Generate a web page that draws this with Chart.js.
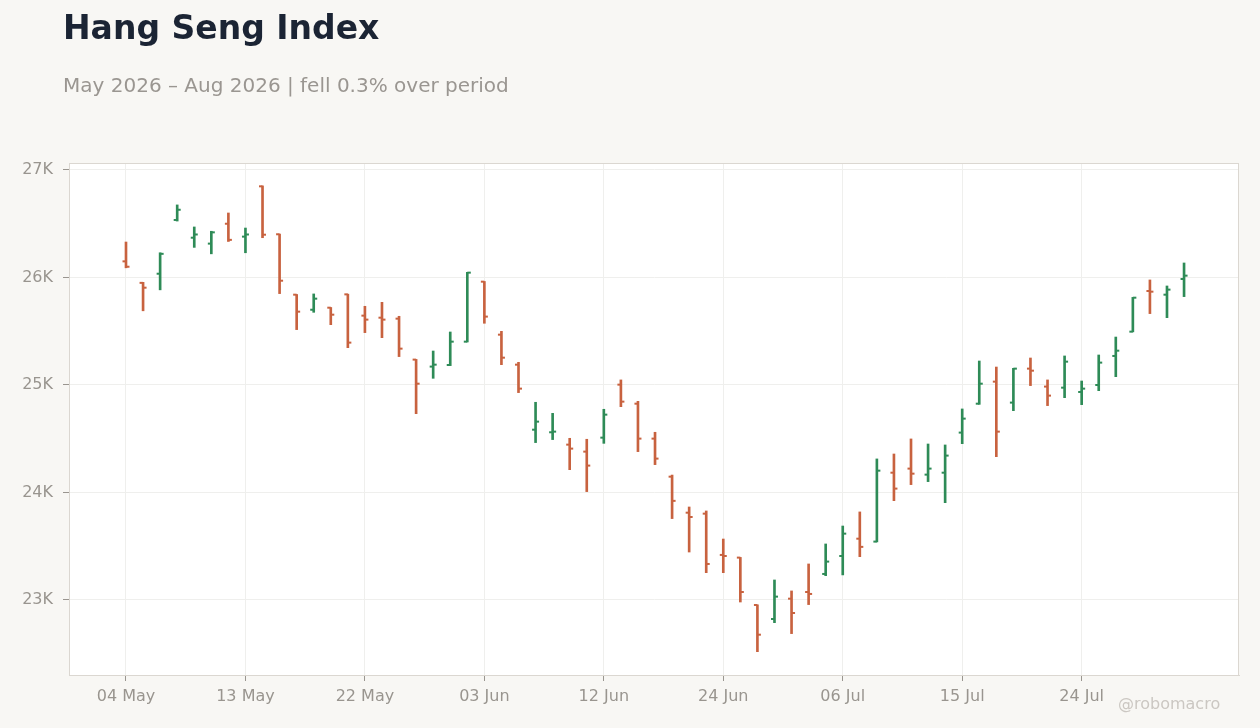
<!DOCTYPE html>
<html>
<head>
<meta charset="utf-8">
<script src="https://cdn.jsdelivr.net/npm/chart.js@4.4.1/dist/chart.umd.min.js"></script>
<style>
    html, body { margin: 0; padding: 0; background: #f8f7f4; }
    #wrap { position: relative; width: 1260px; height: 728px; overflow: hidden; }
    #title { position: absolute; left: 63px; top: 11px; font: bold 33px 'DejaVu Sans'; line-height: 1; color: #1b2434; white-space: nowrap; }
    #subtitle { position: absolute; left: 63px; top: 75px; font: 20px 'DejaVu Sans'; line-height: 1; color: #9a9691; white-space: nowrap; }
    #credit { position: absolute; left: 1118px; top: 696px; font: 16px 'DejaVu Sans'; line-height: 1; color: #cbc7c2; white-space: nowrap; }
    #box { position: absolute; left: 0; top: 0; width: 1260px; height: 728px; }
</style>
</head>
<body>
<div id="wrap">
    <div id="box"><canvas id="ohlcChart"></canvas></div>
    <div id="title">Hang Seng Index</div>
    <div id="subtitle">May 2026 – Aug 2026 | fell 0.3% over period</div>
    <div id="credit">@robomacro</div>
</div>
<script>
// trading days (holidays 25 May, 19 Jun, 01 Jul skipped)
var dates = [
    '04 May', '05 May', '06 May', '07 May', '08 May', '11 May', '12 May', '13 May', '14 May', '15 May',
    '18 May', '19 May', '20 May', '21 May', '22 May', '26 May', '27 May', '28 May', '29 May',
    '01 Jun', '02 Jun', '03 Jun', '04 Jun', '05 Jun', '08 Jun', '09 Jun', '10 Jun', '11 Jun', '12 Jun',
    '15 Jun', '16 Jun', '17 Jun', '18 Jun', '22 Jun', '23 Jun', '24 Jun', '25 Jun', '26 Jun',
    '29 Jun', '30 Jun', '02 Jul', '03 Jul', '06 Jul', '07 Jul', '08 Jul', '09 Jul', '10 Jul',
    '13 Jul', '14 Jul', '15 Jul', '16 Jul', '17 Jul', '20 Jul', '21 Jul', '22 Jul', '23 Jul', '24 Jul',
    '27 Jul', '28 Jul', '29 Jul', '30 Jul', '31 Jul', '03 Aug'
];

var opens = [
    26150, 25950, 26035, 26535, 26370, 26315, 26500, 26380, 26848, 26402,
    25840, 25700, 25719, 25843, 25645, 25626, 25617, 25236, 25171, 25186,
    25403, 25961, 25468, 25189, 24584, 24560, 24445, 24380, 24510, 25003,
    24826, 24501, 24147, 23812, 23803, 23419, 23394, 22953, 22823, 23012,
    23074, 23242, 23409, 23570, 23543, 24184, 24222, 24166, 24184, 24557,
    24826, 25031, 24836, 25152, 24985, 24975, 24935, 25000, 25270, 25496,
    25874, 25840, 25986
];
var highs = [
    26330, 25955, 26230, 26675, 26470, 26430, 26600, 26460, 26852, 26404,
    25842, 25847, 25721, 25845, 25732, 25769, 25639, 25238, 25316, 25493,
    26048, 25963, 25499, 25211, 24839, 24736, 24504, 24495, 24774, 25047,
    24848, 24560, 24162, 23865, 23828, 23567, 23396, 22955, 23186, 23084,
    23335, 23521, 23688, 23819, 24312, 24358, 24498, 24451, 24442, 24777,
    25223, 25167, 25155, 25251, 25047, 25270, 25037, 25279, 25446, 25815,
    25977, 25921, 26135
];
var lows = [
    26090, 25690, 25885, 26525, 26280, 26220, 26335, 26230, 26370, 25850,
    25515, 25676, 25561, 25347, 25487, 25440, 25264, 24733, 25062, 25180,
    25400, 25574, 25189, 24929, 24464, 24492, 24212, 24008, 24457, 24798,
    24380, 24259, 23757, 23446, 23254, 23254, 22981, 22519, 22789, 22687,
    22957, 23226, 23233, 23403, 23540, 23924, 24073, 24101, 23905, 24454,
    24820, 24333, 24761, 24994, 24808, 24882, 24817, 24947, 25077, 25494,
    25664, 25626, 25822
];
var closes = [
    26100, 25905, 26220, 26630, 26400, 26420, 26350, 26400, 26398, 25970,
    25682, 25803, 25654, 25394, 25608, 25608, 25338, 25012, 25189, 25403,
    26045, 25636, 25254, 24966, 24659, 24566, 24408, 24250, 24724, 24845,
    24501, 24315, 23922, 23772, 23335, 23409, 23074, 22677, 23031, 22879,
    23056, 23357, 23617, 23494, 24203, 24036, 24175, 24222, 24343, 24687,
    25012, 24566, 25152, 25133, 24901, 25217, 24966, 25208, 25319, 25812,
    25868, 25887, 26017
];

var xTicks = [0, 7, 14, 21, 28, 35, 42, 49, 56];
var yTicks = [23000, 24000, 25000, 26000, 27000];

var UP = '#2e8b57';
var DOWN = '#c8623f';

var colors = [], rangeData = [], openData = [], closeData = [];
for (var i = 0; i < dates.length; i++) {
    colors.push(closes[i] >= opens[i] ? UP : DOWN);
    rangeData.push({x: i, y: [lows[i], highs[i]]});
    openData.push({x: i, y: opens[i]});
    closeData.push({x: i, y: closes[i]});
}

// white plot area with a thin frame
var plotFrame = {
    id: 'plotFrame',
    beforeDraw: function(chart) {
        var a = chart.chartArea, ctx = chart.ctx;
        ctx.save();
        ctx.fillStyle = '#ffffff';
        ctx.fillRect(a.left, a.top, a.right - a.left, a.bottom - a.top);
        ctx.restore();
    },
    afterDraw: function(chart) {
        var a = chart.chartArea, ctx = chart.ctx;
        ctx.save();
        ctx.strokeStyle = '#dbd7d1';
        ctx.lineWidth = 1;
        ctx.strokeRect(a.left + 0.5, a.top + 0.5, a.right - a.left - 1, a.bottom - a.top);
        ctx.restore();
    }
};

Chart.defaults.font.family = 'DejaVu Sans';
Chart.defaults.font.size = 16;
Chart.defaults.color = '#99958f';

var ctx = document.getElementById('ohlcChart').getContext('2d');
var ohlcChart = new Chart(ctx, {
    type: 'bar',
    data: {
        datasets: [{
            label: 'open',
            type: 'scatter',
            data: openData,
            pointStyle: 'dash',
            rotation: 180,
            pointRadius: 3.5,
            pointBorderWidth: 2,
            pointBorderColor: colors,
            pointBackgroundColor: colors
        }, {
            label: 'close',
            type: 'scatter',
            data: closeData,
            pointStyle: 'dash',
            pointRadius: 3.5,
            pointBorderWidth: 2,
            pointBorderColor: colors,
            pointBackgroundColor: colors
        }, {
            label: 'range',
            data: rangeData,
            backgroundColor: colors,
            borderWidth: 0,
            barThickness: 2
        }]
    },
    options: {
        responsive: true,
        maintainAspectRatio: false,
        animation: false,
        events: [],
        layout: { padding: { top: 163, right: 21, bottom: 0, left: 0 } },
        plugins: {
            legend: { display: false },
            tooltip: { enabled: false }
        },
        scales: {
            x: {
                type: 'linear',
                min: -3.34,
                max: 65.22,
                offset: false,
                afterBuildTicks: function(scale) {
                    scale.ticks = xTicks.map(function(v) { return {value: v}; });
                },
                afterFit: function(scale) { scale.height = 53; },
                ticks: {
                    padding: 6,
                    maxRotation: 0,
                    autoSkip: false,
                    callback: function(v) { return dates[v]; }
                },
                grid: { offset: false, color: '#efefed', tickColor: '#99958f', tickLength: 6 },
                border: { color: '#dbd7d1' }
            },
            y: {
                min: 22302,
                max: 27065,
                afterBuildTicks: function(scale) {
                    scale.ticks = yTicks.map(function(v) { return {value: v}; });
                },
                afterFit: function(scale) { scale.width = 69; },
                ticks: {
                    padding: 10,
                    callback: function(v) { return (v / 1000) + 'K'; }
                },
                grid: { color: '#efefed', tickColor: '#99958f', tickLength: 6 },
                border: { color: '#dbd7d1' }
            }
        }
    },
    plugins: [plotFrame]
});
</script>
</body>
</html>
